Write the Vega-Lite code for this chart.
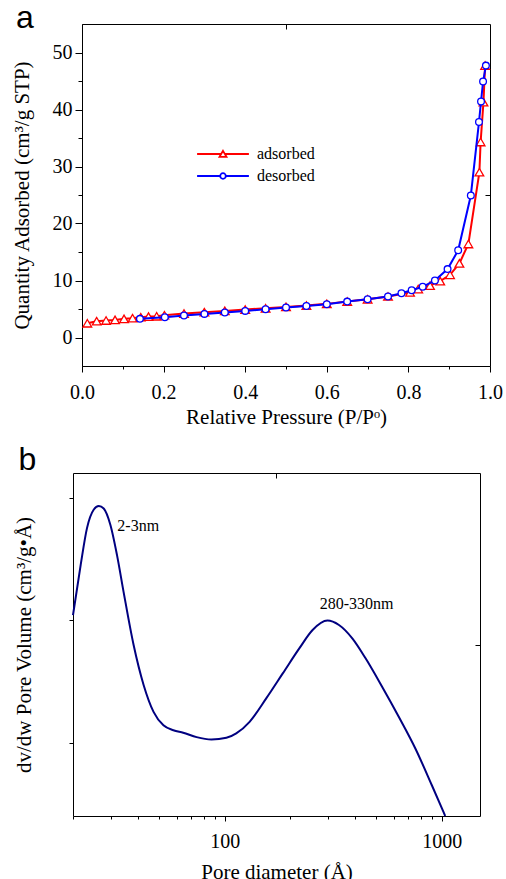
{
  "$schema": "https://vega.github.io/schema/vega-lite/v6.json",
  "background": "white",
  "padding": {"left": 10, "top": 1, "right": 5, "bottom": 0},
  "spacing": 15,
  "config": {
    "view": {"stroke": "black", "strokeWidth": 1},
    "axis": {
      "labelFont": "Liberation Serif", "labelFontSize": 20, "labelColor": "black",
      "titleFont": "Liberation Serif", "titleFontSize": 21, "titleFontWeight": "normal", "titleColor": "black",
      "domainColor": "black", "tickColor": "black", "grid": false
    },
    "legend": {"labelFont": "Liberation Serif", "labelFontSize": 16, "labelColor": "black"}
  },
  "vconcat": [
    {
      "width": 408,
      "height": 342,
      "title": {"text": "a", "anchor": "start", "frame": "bounds", "font": "Liberation Sans", "fontSize": 32, "fontWeight": "normal", "color": "black", "baseline": "alphabetic", "offset": -36, "dx": 5},
      "data": {"values": [
        {"p": 0.013, "q": 2.5, "series": "adsorbed"},
        {"p": 0.036, "q": 2.86, "series": "adsorbed"},
        {"p": 0.059, "q": 2.98, "series": "adsorbed"},
        {"p": 0.081, "q": 3.09, "series": "adsorbed"},
        {"p": 0.103, "q": 3.27, "series": "adsorbed"},
        {"p": 0.124, "q": 3.39, "series": "adsorbed"},
        {"p": 0.144, "q": 3.56, "series": "adsorbed"},
        {"p": 0.163, "q": 3.67, "series": "adsorbed"},
        {"p": 0.183, "q": 3.73, "series": "adsorbed"},
        {"p": 0.202, "q": 3.91, "series": "adsorbed"},
        {"p": 0.25, "q": 4.2, "series": "adsorbed"},
        {"p": 0.30, "q": 4.44, "series": "adsorbed"},
        {"p": 0.35, "q": 4.67, "series": "adsorbed"},
        {"p": 0.40, "q": 4.9, "series": "adsorbed"},
        {"p": 0.45, "q": 5.13, "series": "adsorbed"},
        {"p": 0.50, "q": 5.37, "series": "adsorbed"},
        {"p": 0.55, "q": 5.6, "series": "adsorbed"},
        {"p": 0.60, "q": 5.9, "series": "adsorbed"},
        {"p": 0.65, "q": 6.3, "series": "adsorbed"},
        {"p": 0.70, "q": 6.7, "series": "adsorbed"},
        {"p": 0.75, "q": 7.2, "series": "adsorbed"},
        {"p": 0.804, "q": 7.9, "series": "adsorbed"},
        {"p": 0.824, "q": 8.5, "series": "adsorbed"},
        {"p": 0.853, "q": 9.1, "series": "adsorbed"},
        {"p": 0.878, "q": 9.9, "series": "adsorbed"},
        {"p": 0.902, "q": 11.0, "series": "adsorbed"},
        {"p": 0.925, "q": 13.0, "series": "adsorbed"},
        {"p": 0.947, "q": 16.4, "series": "adsorbed"},
        {"p": 0.974, "q": 29.0, "series": "adsorbed"},
        {"p": 0.977, "q": 34.3, "series": "adsorbed"},
        {"p": 0.984, "q": 41.3, "series": "adsorbed"},
        {"p": 0.988, "q": 47.7, "series": "adsorbed"},
        {"p": 0.142, "q": 3.27, "series": "desorbed"},
        {"p": 0.203, "q": 3.56, "series": "desorbed"},
        {"p": 0.25, "q": 3.85, "series": "desorbed"},
        {"p": 0.30, "q": 4.14, "series": "desorbed"},
        {"p": 0.35, "q": 4.38, "series": "desorbed"},
        {"p": 0.40, "q": 4.67, "series": "desorbed"},
        {"p": 0.45, "q": 4.96, "series": "desorbed"},
        {"p": 0.50, "q": 5.25, "series": "desorbed"},
        {"p": 0.55, "q": 5.54, "series": "desorbed"},
        {"p": 0.60, "q": 5.83, "series": "desorbed"},
        {"p": 0.65, "q": 6.3, "series": "desorbed"},
        {"p": 0.70, "q": 6.7, "series": "desorbed"},
        {"p": 0.75, "q": 7.2, "series": "desorbed"},
        {"p": 0.783, "q": 7.75, "series": "desorbed"},
        {"p": 0.808, "q": 8.3, "series": "desorbed"},
        {"p": 0.835, "q": 8.9, "series": "desorbed"},
        {"p": 0.865, "q": 10.0, "series": "desorbed"},
        {"p": 0.896, "q": 12.0, "series": "desorbed"},
        {"p": 0.922, "q": 15.3, "series": "desorbed"},
        {"p": 0.953, "q": 24.9, "series": "desorbed"},
        {"p": 0.973, "q": 37.8, "series": "desorbed"},
        {"p": 0.978, "q": 41.4, "series": "desorbed"},
        {"p": 0.983, "q": 44.9, "series": "desorbed"},
        {"p": 0.990, "q": 47.7, "series": "desorbed"}
      ]},
      "resolve": {"axis": {"x": "independent", "y": "independent"}},
      "layer": [
        {
          "transform": [{"filter": "datum.series == 'adsorbed'"}],
          "mark": {"type": "line", "strokeWidth": 2},
          "encoding": {
            "x": {"field": "p", "type": "quantitative", "sort": null,
              "scale": {"domain": [0, 1], "nice": false, "zero": false},
              "axis": {"title": "Relative Pressure (P/Pᵒ)", "values": [0, 0.1, 0.2, 0.3, 0.4, 0.5, 0.6, 0.7, 0.8, 0.9, 1.0], "format": ".1f",
                "labelExpr": "round(datum.value * 10) % 2 == 0 ? datum.label : ''",
                "tickSize": {"condition": {"test": "round(datum.value * 10) % 2 == 0", "value": 6}, "value": 3},
                "labelPadding": 10, "titlePadding": 4, "labelFlush": false}},
            "y": {"field": "q", "type": "quantitative",
              "scale": {"domain": [-5, 55], "nice": false, "zero": false},
              "axis": {"title": "Quantity Adsorbed (cm³/g STP)", "values": [0, 5, 10, 15, 20, 25, 30, 35, 40, 45, 50],
                "labelExpr": "datum.value % 10 == 0 ? datum.label : ''",
                "tickSize": {"condition": {"test": "datum.value % 10 == 0", "value": 7}, "value": 4},
                "labelPadding": 3, "titlePadding": 20}},
            "stroke": {"field": "series", "type": "nominal",
              "scale": {"domain": ["adsorbed", "desorbed"], "range": ["#ff0000", "#0000ff"]},
              "legend": {"title": null, "orient": "none", "legendX": 133, "legendY": 122, "padding": 0, "symbolSize": 196, "symbolOffset": 0, "labelOffset": 26, "rowPadding": 6, "symbolStrokeWidth": 1.8,
                "encode": {"symbols": {"update": {"shape": {"signal": "datum.value == 'adsorbed' ? 'M-3.7,0L-0.26,0M0.26,0L3.7,0M0,-0.45L0.5,0.4L-0.5,0.4Z' : 'M-3.7,0L-0.4,0M0.4,0L3.7,0M-0.4,0A0.4,0.4,0,1,1,0.4,0A0.4,0.4,0,1,1,-0.4,0Z'"}, "fill": {"value": "white"}, "opacity": {"value": 1}}}}}}
          }
        },
        {
          "transform": [{"filter": "datum.series == 'adsorbed'"}],
          "mark": {"type": "point", "shape": "triangle-up", "size": 75, "filled": true, "fill": "white", "strokeWidth": 1.3, "opacity": 1},
          "encoding": {
            "x": {"field": "p", "type": "quantitative", "axis": null},
            "y": {"field": "q", "type": "quantitative", "axis": null},
            "stroke": {"field": "series", "type": "nominal",
              "scale": {"domain": ["adsorbed", "desorbed"], "range": ["#ff0000", "#0000ff"]},
              "legend": {"title": null, "orient": "none", "legendX": 133, "legendY": 122, "padding": 0, "symbolSize": 196, "symbolOffset": 0, "labelOffset": 26, "rowPadding": 6, "symbolStrokeWidth": 1.8,
                "encode": {"symbols": {"update": {"shape": {"signal": "datum.value == 'adsorbed' ? 'M-3.7,0L-0.26,0M0.26,0L3.7,0M0,-0.45L0.5,0.4L-0.5,0.4Z' : 'M-3.7,0L-0.4,0M0.4,0L3.7,0M-0.4,0A0.4,0.4,0,1,1,0.4,0A0.4,0.4,0,1,1,-0.4,0Z'"}, "fill": {"value": "white"}, "opacity": {"value": 1}}}}}}
          }
        },
        {
          "transform": [{"filter": "datum.series == 'desorbed'"}],
          "mark": {"type": "line", "strokeWidth": 2},
          "encoding": {
            "x": {"field": "p", "type": "quantitative", "axis": null},
            "y": {"field": "q", "type": "quantitative", "axis": null},
            "stroke": {"field": "series", "type": "nominal",
              "scale": {"domain": ["adsorbed", "desorbed"], "range": ["#ff0000", "#0000ff"]},
              "legend": {"title": null, "orient": "none", "legendX": 133, "legendY": 122, "padding": 0, "symbolSize": 196, "symbolOffset": 0, "labelOffset": 26, "rowPadding": 6, "symbolStrokeWidth": 1.8,
                "encode": {"symbols": {"update": {"shape": {"signal": "datum.value == 'adsorbed' ? 'M-3.7,0L-0.26,0M0.26,0L3.7,0M0,-0.45L0.5,0.4L-0.5,0.4Z' : 'M-3.7,0L-0.4,0M0.4,0L3.7,0M-0.4,0A0.4,0.4,0,1,1,0.4,0A0.4,0.4,0,1,1,-0.4,0Z'"}, "fill": {"value": "white"}, "opacity": {"value": 1}}}}}}
          }
        },
        {
          "transform": [{"filter": "datum.series == 'desorbed'"}],
          "mark": {"type": "point", "shape": "circle", "size": 45, "filled": true, "fill": "white", "strokeWidth": 1.3, "opacity": 1},
          "encoding": {
            "x": {"field": "p", "type": "quantitative",
              "axis": {"orient": "top", "values": [0.5], "labels": false, "domain": false, "tickSize": -5, "title": null, "minExtent": 0, "maxExtent": 0}},
            "y": {"field": "q", "type": "quantitative",
              "axis": {"orient": "right", "values": [25], "labels": false, "domain": false, "tickSize": -5, "title": null, "minExtent": 0, "maxExtent": 0}},
            "stroke": {"field": "series", "type": "nominal",
              "scale": {"domain": ["adsorbed", "desorbed"], "range": ["#ff0000", "#0000ff"]},
              "legend": {"title": null, "orient": "none", "legendX": 133, "legendY": 122, "padding": 0, "symbolSize": 196, "symbolOffset": 0, "labelOffset": 26, "rowPadding": 6, "symbolStrokeWidth": 1.8,
                "encode": {"symbols": {"update": {"shape": {"signal": "datum.value == 'adsorbed' ? 'M-3.7,0L-0.26,0M0.26,0L3.7,0M0,-0.45L0.5,0.4L-0.5,0.4Z' : 'M-3.7,0L-0.4,0M0.4,0L3.7,0M-0.4,0A0.4,0.4,0,1,1,0.4,0A0.4,0.4,0,1,1,-0.4,0Z'"}, "fill": {"value": "white"}, "opacity": {"value": 1}}}}}}
          }
        }
      ]
    },
    {
      "width": 398,
      "height": 343,
      "view": {"stroke": null},
      "title": {"text": "b", "anchor": "start", "frame": "bounds", "font": "Liberation Sans", "fontSize": 32, "fontWeight": "normal", "color": "black", "baseline": "alphabetic", "offset": -29, "dx": 5},
      "resolve": {"axis": {"x": "independent", "y": "independent"}},
      "layer": [
        {
          "data": {"values": [
            {"d": 20.0, "v": 2.04},
            {"d": 21.7, "v": 2.45},
            {"d": 23.2, "v": 2.75},
            {"d": 24.9, "v": 2.90},
            {"d": 26.3, "v": 2.93},
            {"d": 27.7, "v": 2.91},
            {"d": 29.7, "v": 2.78},
            {"d": 31.9, "v": 2.53},
            {"d": 34.2, "v": 2.23},
            {"d": 38.0, "v": 1.80},
            {"d": 42.3, "v": 1.47},
            {"d": 47.0, "v": 1.25},
            {"d": 52.2, "v": 1.14},
            {"d": 58.0, "v": 1.10},
            {"d": 64.4, "v": 1.08},
            {"d": 74.2, "v": 1.044},
            {"d": 86.9, "v": 1.025},
            {"d": 101.8, "v": 1.038},
            {"d": 113, "v": 1.074},
            {"d": 130.2, "v": 1.169},
            {"d": 155.3, "v": 1.36},
            {"d": 185.1, "v": 1.564},
            {"d": 220.6, "v": 1.768},
            {"d": 254, "v": 1.918},
            {"d": 297.4, "v": 1.995},
            {"d": 336, "v": 1.959},
            {"d": 387, "v": 1.85},
            {"d": 445.6, "v": 1.687},
            {"d": 531, "v": 1.455},
            {"d": 633.5, "v": 1.21},
            {"d": 755.6, "v": 0.951},
            {"d": 900, "v": 0.651},
            {"d": 1018, "v": 0.433},
            {"d": 1037, "v": 0.4}
          ]},
          "mark": {"type": "line", "color": "#000080", "strokeWidth": 2, "interpolate": "monotone"},
          "encoding": {
            "x": {"field": "d", "type": "quantitative",
              "scale": {"type": "log", "domain": [20, 1500], "nice": false, "range": [-9, 398]},
              "axis": {"title": "Pore diameter (Å)", "values": [20, 30, 40, 50, 60, 70, 80, 90, 100, 200, 300, 400, 500, 600, 700, 800, 900, 1000],
                "format": "d",
                "labelExpr": "datum.value == 100 || datum.value == 1000 ? datum.label : ''",
                "tickSize": {"condition": {"test": "datum.value == 100 || datum.value == 1000", "value": 5}, "value": 3},
                "labelPadding": 10, "titlePadding": 10, "labelFlush": false}},
            "y": {"field": "v", "type": "quantitative",
              "scale": {"domain": [0.4, 3.2], "nice": false, "zero": false},
              "axis": {"title": "dv/dw Pore Volume (cm³/g•Å)", "values": [1, 2, 3], "labels": false, "tickSize": 4, "titlePadding": 34, "offset": 9}}
          }
        },
        {
          "data": {"values": [
            {"d": 32.0, "v": 2.77, "label": "2-3nm"},
            {"d": 274, "v": 2.13, "label": "280-330nm"}
          ]},
          "mark": {"type": "text", "font": "Liberation Serif", "fontSize": 16, "align": "left", "baseline": "middle", "color": "black"},
          "encoding": {
            "x": {"field": "d", "type": "quantitative",
              "axis": {"orient": "top", "values": [172], "labels": false, "domain": true, "tickSize": -5, "title": null, "minExtent": 0, "maxExtent": 0}},
            "y": {"field": "v", "type": "quantitative",
              "axis": {"orient": "right", "values": [1.8], "labels": false, "domain": true, "tickSize": -5, "title": null, "minExtent": 0, "maxExtent": 0}},
            "text": {"field": "label", "type": "nominal"}
          }
        }
      ]
    }
  ]
}
